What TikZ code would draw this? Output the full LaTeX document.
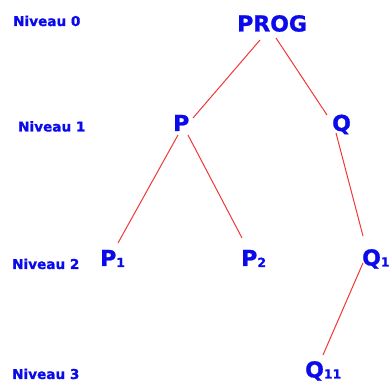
\documentclass[tikz,border=0pt]{standalone}
\usepackage{fontspec}
\setmainfont{DejaVu Sans}
\newfontfamily\heavy[FakeBold=1.0]{DejaVu Sans Bold}
\definecolor{nodeblue}{RGB}{10,10,235}
\definecolor{linkred}{RGB}{240,55,55}
\newcommand{\sbs}[1]{\raisebox{-1pt}{\fontsize{12.5}{12.5}\selectfont #1}}
\begin{document}
\begin{tikzpicture}[x=1pt,y=-1pt,
  lvl/.style={anchor=base west,inner sep=0pt,text=nodeblue,font=\heavy\fontsize{13.6}{14}\selectfont},
  tnode/.style={anchor=base west,inner sep=0pt,text=nodeblue,font=\heavy\fontsize{22}{22}\selectfont},
  link/.style={draw=linkred,line width=1pt}]
\useasboundingbox (0,0) rectangle (392,385);
\node[lvl] (n0) at (13,26) {Niveau 0};
\node[lvl] (n1) at (18,131.5) {Niveau 1};
\node[lvl] (n2) at (12,269) {Niveau 2};
\node[lvl] (n3) at (12,379) {Niveau 3};
\node[tnode] (PROG) at (237,31.5) {PROG};
\node[tnode] (P) at (173,131) {P};
\node[tnode] (Q) at (332,131) {Q};
\node[tnode] (P1) at (100,266) {P\sbs{1}};
\node[tnode] (P2) at (241,266) {P\sbs{2}};
\node[tnode] (Q1) at (362,265.5) {Q\sbs{1}};
\node[tnode] (Q11) at (305,377.5) {Q\sbs{11}};
\draw[link] ([shift={(23,8.5)}]PROG.base west) -- ([shift={(20,-13)}]P.base west);
\draw[link] ([shift={(39,6.5)}]PROG.base west) -- ([shift={(-5,-16)}]Q.base west);
\draw[link] ([shift={(5,4)}]P.base west) -- ([shift={(18,-23)}]P1.base west);
\draw[link] ([shift={(15,4)}]P.base west) -- ([shift={(1,-28)}]P2.base west);
\draw[link] ([shift={(4,2)}]Q.base west) -- ([shift={(1,-29.5)}]Q1.base west);
\draw[link] ([shift={(1,-2.5)}]Q1.base west) -- ([shift={(18,-22.5)}]Q11.base west);
\end{tikzpicture}
\end{document}
